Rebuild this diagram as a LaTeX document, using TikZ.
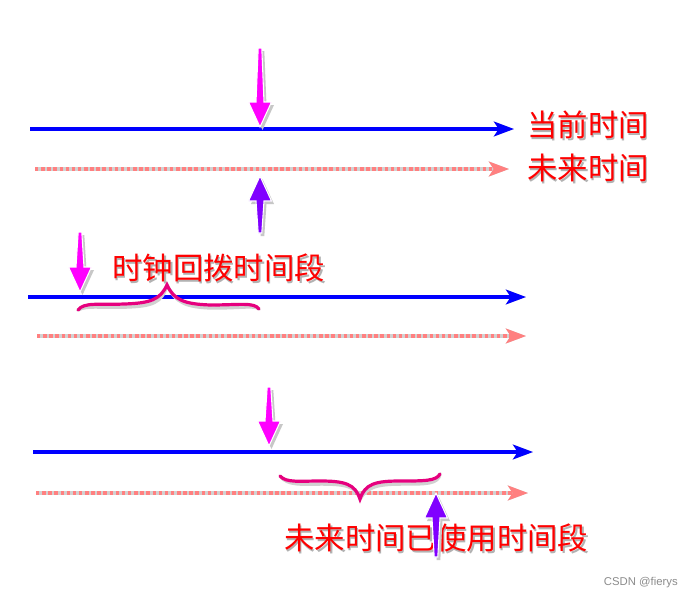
\documentclass[tikz,border=0pt]{standalone}
\usepackage{fontspec}
\setmainfont{Liberation Sans}
\newfontfamily\cjk{Noto Sans CJK SC}
\usetikzlibrary{arrows.meta}
\definecolor{tblue}{RGB}{0,0,255}
\definecolor{tpink}{RGB}{255,128,128}
\definecolor{tmag}{RGB}{255,0,255}
\definecolor{tpurple}{RGB}{128,0,255}
\definecolor{tbrace}{RGB}{230,0,126}
\definecolor{tred}{RGB}{255,0,0}
\newcommand\vblock[4]{% x, tail y, tip y, colour
  \pgfmathsetmacro\vbdir{(#3>#2)?1:-1}
  \pgfmathsetmacro\vbhy{#3-\vbdir*25}
  \fill[black!22,shift={(2.5,3)}] (#1-1.8,#2) -- (#1+1.8,#2) -- (#1+4,\vbhy) -- (#1+11.5,\vbhy) -- (#1,#3) -- (#1-11.5,\vbhy) -- (#1-4,\vbhy) -- cycle;
  \filldraw[fill=#4,draw=white,line width=0.8pt,line join=miter] (#1-1.8,#2) -- (#1+1.8,#2) -- (#1+4,\vbhy) -- (#1+11.5,\vbhy) -- (#1,#3) -- (#1-11.5,\vbhy) -- (#1-4,\vbhy) -- cycle;
}
\begin{document}
\begin{tikzpicture}[x=0.75pt,y=-0.75pt,
  tip/.style={-{Stealth[length=15pt,width=11pt,inset=3.5pt]}},
  nowline/.style={tip,draw=tblue,line width=2.4pt},
  futline/.style={tip,draw=tpink,line width=2.4pt,dash pattern=on 2.6pt off 2pt},
  shadowline/.style={tip,draw=black!18,line width=2.6pt,shift={(2,4)}},
  bracestyle/.style={draw=tbrace,line width=2.4pt,line cap=round},
  braceshadow/.style={draw=black!18,line width=2.6pt,line cap=round,shift={(2,3)}},
  lbl/.style={text=tred,font=\cjk\fontsize{22.8}{23}\selectfont,inner sep=0pt,anchor=west},
  lblshadow/.style={lbl,text=black!30,shift={(1.5,2)}}]
\useasboundingbox[fill=white] (0,0) rectangle (693,600);

% ---------- group 1 ----------
\coordinate (a1) at (30,129);  \coordinate (a2) at (514,129);
\coordinate (b1) at (35,169);  \coordinate (b2) at (509,169);
\draw[shadowline] (a1) -- (a2);
\draw[shadowline] (b1) -- (b2);
\draw[nowline] (a1) -- (a2);
\draw[futline] (b1) -- (b2);
\node[lblshadow] at (527,125) {当前时间};
\node[lbl] (now) at (527,125) {当前时间};
\node[lblshadow] at (527,168) {未来时间};
\node[lbl] (fut) at (527,168) {未来时间};
\vblock{260}{48}{127}{tmag}
\vblock{260}{233}{176}{tpurple}

% ---------- group 2 ----------
\coordinate (c1) at (28,297);  \coordinate (c2) at (526,297);
\coordinate (d1) at (37,336);  \coordinate (d2) at (526,336);
\draw[shadowline] (c1) -- (c2);
\draw[shadowline] (d1) -- (d2);
\draw[nowline] (c1) -- (c2);
\draw[futline] (d1) -- (d2);
\vblock{80}{232}{292}{tmag}
\node[lblshadow] at (112,268) {时钟回拨时间段};
\node[lbl] (back) at (112,268) {时钟回拨时间段};
\coordinate (br1a) at (78,310);
\coordinate (br1t) at (167,285);
\coordinate (br1b) at (259,309);
\draw[braceshadow] (br1a) .. controls (84,302) and (98,305) .. (125,304)
  .. controls (150,303) and (160,300) .. (br1t)
  .. controls (174,300) and (184,304) .. (210,305)
  .. controls (240,305) and (254,302) .. (br1b);
\draw[bracestyle] (br1a) .. controls (84,302) and (98,305) .. (125,304)
  .. controls (150,303) and (160,300) .. (br1t)
  .. controls (174,300) and (184,304) .. (210,305)
  .. controls (240,305) and (254,302) .. (br1b);

% ---------- group 3 ----------
\coordinate (e1) at (33,452);  \coordinate (e2) at (533,452);
\coordinate (f1) at (36,493);  \coordinate (f2) at (528,493);
\draw[shadowline] (e1) -- (e2);
\draw[shadowline] (f1) -- (f2);
\draw[nowline] (e1) -- (e2);
\draw[futline] (f1) -- (f2);
\vblock{269}{387}{446}{tmag}
\coordinate (br2a) at (280,476);
\coordinate (br2t) at (360,499);
\coordinate (br2b) at (440,474);
\draw[braceshadow] (br2a) .. controls (286,483) and (300,481) .. (320,481)
  .. controls (345,481) and (355,484) .. (br2t)
  .. controls (365,484) and (375,481) .. (400,481)
  .. controls (425,481) and (436,481) .. (br2b);
\draw[bracestyle] (br2a) .. controls (286,483) and (300,481) .. (320,481)
  .. controls (345,481) and (355,484) .. (br2t)
  .. controls (365,484) and (375,481) .. (400,481)
  .. controls (425,481) and (436,481) .. (br2b);
\node[lblshadow] at (284,538) {未来时间已使用时间段};
\node[lbl] (used) at (284,538) {未来时间已使用时间段};
\vblock{436}{557}{493}{tpurple}

\node[anchor=east,text=black!45,font=\fontsize{8.5}{9}\selectfont,inner sep=0pt] (wm) at (678,583) {CSDN @fierys};
\end{tikzpicture}
\end{document}
